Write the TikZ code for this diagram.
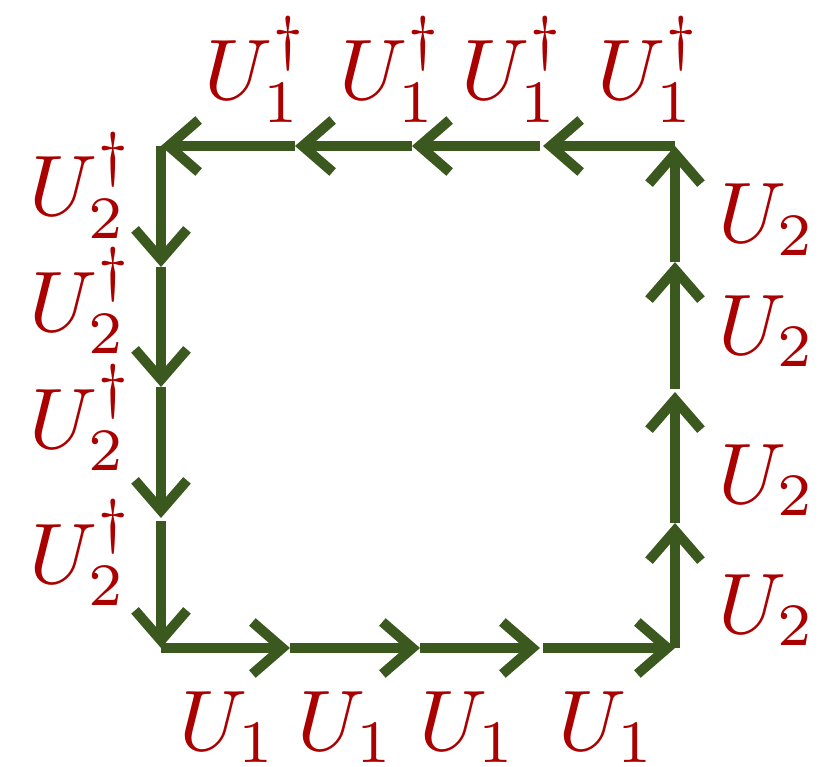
\documentclass[tikz,border=0pt]{standalone}
\usetikzlibrary{arrows.meta}
\definecolor{lgreen}{RGB}{59,89,30}
\definecolor{lred}{RGB}{170,0,0}
\begin{document}
\begin{tikzpicture}[x=1pt,y=-1pt,
  link/.style={draw=lgreen, line width=10pt, -{Straight Barb[length=30pt,width=52pt,sharp]}},
  lab/.style={text=lred, inner sep=0pt, anchor=base west, scale=8.6}]
\useasboundingbox (0,0) rectangle (824,767);
% lattice points
\coordinate (B0) at (161,648);
\coordinate (B1) at (290,648);
\coordinate (B2) at (420,648);
\coordinate (B3) at (540,648);
\coordinate (B3s) at (543,648);
\coordinate (B4) at (675,648);
\coordinate (R1) at (675,523);
\coordinate (R2) at (675,392);
\coordinate (R2s) at (675,389);
\coordinate (R3) at (675,262);
\coordinate (R4) at (675,146);
\coordinate (T1) at (543,146);
\coordinate (T1s) at (540,146);
\coordinate (T2) at (412,146);
\coordinate (T3) at (295,146);
\coordinate (T4) at (161,146);
\coordinate (L1) at (161,267);
\coordinate (L2) at (161,387);
\coordinate (L3) at (161,518);
\coordinate (L3s) at (161,521);
% bottom
\draw[link] (B0) -- (B1);
\draw[link] (B1) -- (B2);
\draw[link] (B2) -- (B3);
\draw[link] (B3s) -- (B4);
% right
\draw[link] (B4) -- (R1);
\draw[link] (R1) -- (R2);
\draw[link] (R2s) -- (R3);
\draw[link] (R3) -- (R4);
% top
\draw[link] (R4) -- (T1);
\draw[link] (T1s) -- (T2);
\draw[link] (T2) -- (T3);
\draw[link] (T3) -- (T4);
% left
\draw[link] (T4) -- (L1);
\draw[link] (L1) -- (L2);
\draw[link] (L2) -- (L3);
\draw[link] (L3s) -- (B0);
% labels
\node[lab] (b1) at (178,750) {$U_1$};
\node[lab] (b2) at (296,750) {$U_1$};
\node[lab] (b3) at (418,750) {$U_1$};
\node[lab] (b4) at (557,750) {$U_1$};
\node[lab] (t1) at (203,100) {$U_1^\dagger$};
\node[lab] (t2) at (338,100) {$U_1^\dagger$};
\node[lab] (t3) at (460,100) {$U_1^\dagger$};
\node[lab] (t4) at (596,100) {$U_1^\dagger$};
\node[lab] (r1) at (717,243) {$U_2$};
\node[lab] (r2) at (717,354) {$U_2$};
\node[lab] (r3) at (717,503) {$U_2$};
\node[lab] (r4) at (717,633) {$U_2$};
\node[lab] (l1) at (28,216) {$U_2^\dagger$};
\node[lab] (l2) at (28,331) {$U_2^\dagger$};
\node[lab] (l3) at (28,448) {$U_2^\dagger$};
\node[lab] (l4) at (28,583) {$U_2^\dagger$};
\end{tikzpicture}
\end{document}
